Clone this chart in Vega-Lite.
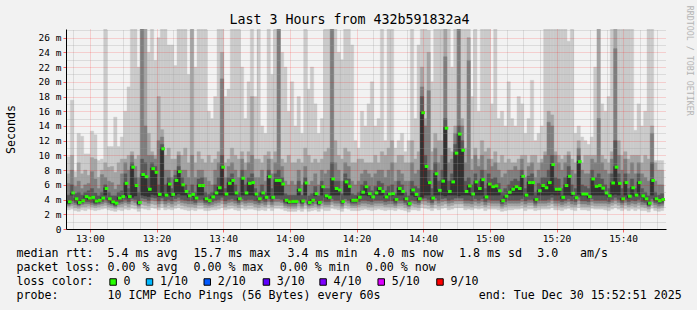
{
"$schema": "https://vega.github.io/schema/vega-lite/v6.json",
"background": "#f2f2f2",
"padding": {"left": 5, "top": 5, "right": 5, "bottom": 8},
"bounds": "flush",
"spacing": 25,
"config": {"view": {"stroke": null}, "font": "DejaVu Sans Mono"},
"datasets": {
"pings": [
{"t":"2025-12-30T12:53","p1":2.6,"p2":3.0,"p3":3.2,"p4":3.4,"p5":3.5,"p6":3.8,"p7":4.6,"p8":6.2,"p9":7.5,"p10":9.8,"md":3.7},
{"t":"2025-12-30T12:54","p1":2.7,"p2":3.1,"p3":3.4,"p4":3.8,"p5":4.6,"p6":5.0,"p7":6.0,"p8":8.0,"p9":10.0,"p10":17.5,"md":4.9},
{"t":"2025-12-30T12:55","p1":2.5,"p2":2.9,"p3":3.3,"p4":3.6,"p5":3.9,"p6":4.2,"p7":4.8,"p8":5.8,"p9":7.0,"p10":7.8,"md":4.1},
{"t":"2025-12-30T12:56","p1":2.4,"p2":2.8,"p3":3.1,"p4":3.3,"p5":3.4,"p6":3.7,"p7":5.0,"p8":6.5,"p9":9.0,"p10":13.0,"md":3.6},
{"t":"2025-12-30T12:57","p1":2.6,"p2":3.0,"p3":3.3,"p4":3.5,"p5":3.7,"p6":3.9,"p7":4.6,"p8":5.5,"p9":7.5,"p10":12.6,"md":3.85},
{"t":"2025-12-30T12:58","p1":2.5,"p2":3.0,"p3":3.4,"p4":3.7,"p5":4.2,"p6":4.5,"p7":5.0,"p8":6.0,"p9":8.0,"p10":10.2,"md":4.4},
{"t":"2025-12-30T12:59","p1":2.7,"p2":3.1,"p3":3.4,"p4":3.7,"p5":4.0,"p6":4.3,"p7":5.2,"p8":6.2,"p9":7.3,"p10":10.2,"md":4.2},
{"t":"2025-12-30T13:00","p1":2.6,"p2":3.0,"p3":3.3,"p4":3.6,"p5":4.1,"p6":4.4,"p7":5.5,"p8":7.8,"p9":9.7,"p10":13.3,"md":4.3},
{"t":"2025-12-30T13:01","p1":2.5,"p2":2.9,"p3":3.2,"p4":3.4,"p5":3.6,"p6":3.9,"p7":4.9,"p8":6.8,"p9":9.5,"p10":12.8,"md":3.8},
{"t":"2025-12-30T13:02","p1":2.6,"p2":3.0,"p3":3.3,"p4":3.5,"p5":3.7,"p6":4.0,"p7":4.5,"p8":5.5,"p9":7.0,"p10":9.3,"md":3.9},
{"t":"2025-12-30T13:03","p1":2.7,"p2":3.1,"p3":3.4,"p4":3.7,"p5":4.0,"p6":4.3,"p7":5.0,"p8":7.4,"p9":8.0,"p10":9.5,"md":4.2},
{"t":"2025-12-30T13:04","p1":2.8,"p2":3.2,"p3":3.6,"p4":4.0,"p5":4.6,"p6":5.6,"p7":6.0,"p8":7.0,"p9":9.0,"p10":30,"md":5.5},
{"t":"2025-12-30T13:05","p1":2.6,"p2":3.0,"p3":3.3,"p4":3.6,"p5":3.9,"p6":4.2,"p7":5.0,"p8":6.5,"p9":8.4,"p10":11.2,"md":4.1},
{"t":"2025-12-30T13:06","p1":2.5,"p2":2.9,"p3":3.2,"p4":3.4,"p5":3.5,"p6":3.8,"p7":4.5,"p8":6.3,"p9":8.5,"p10":11.2,"md":3.7},
{"t":"2025-12-30T13:07","p1":2.4,"p2":2.8,"p3":3.0,"p4":3.2,"p5":3.3,"p6":3.6,"p7":4.5,"p8":5.4,"p9":7.7,"p10":15.2,"md":3.5},
{"t":"2025-12-30T13:08","p1":2.6,"p2":3.0,"p3":3.3,"p4":3.6,"p5":4.0,"p6":4.3,"p7":5.0,"p8":6.0,"p9":9.0,"p10":11.2,"md":4.2},
{"t":"2025-12-30T13:09","p1":2.5,"p2":3.0,"p3":3.4,"p4":3.7,"p5":4.2,"p6":4.5,"p7":5.2,"p8":7.5,"p9":9.5,"p10":12.5,"md":4.4},
{"t":"2025-12-30T13:10","p1":2.7,"p2":3.2,"p3":3.6,"p4":4.0,"p5":4.5,"p6":6.3,"p7":7.5,"p8":9.0,"p9":9.5,"p10":16.0,"md":6.2},
{"t":"2025-12-30T13:11","p1":2.6,"p2":3.0,"p3":3.4,"p4":3.7,"p5":4.2,"p6":4.5,"p7":5.5,"p8":8.0,"p9":10.0,"p10":19.3,"md":4.4},
{"t":"2025-12-30T13:12","p1":2.8,"p2":3.3,"p3":3.8,"p4":4.1,"p5":4.3,"p6":8.5,"p7":9.0,"p8":10.0,"p9":10.5,"p10":30,"md":8.4},
{"t":"2025-12-30T13:13","p1":2.7,"p2":3.2,"p3":3.6,"p4":4.0,"p5":4.5,"p6":6.0,"p7":7.0,"p8":8.5,"p9":9.5,"p10":30,"md":5.9},
{"t":"2025-12-30T13:14","p1":2.4,"p2":2.8,"p3":3.1,"p4":3.3,"p5":3.4,"p6":3.7,"p7":5.0,"p8":7.0,"p9":10.0,"p10":22.0,"md":3.6},
{"t":"2025-12-30T13:15","p1":2.8,"p2":3.3,"p3":3.8,"p4":4.2,"p5":4.6,"p6":7.5,"p7":9.5,"p8":30,"p9":30,"p10":30,"md":7.4},
{"t":"2025-12-30T13:16","p1":2.7,"p2":3.2,"p3":3.7,"p4":4.1,"p5":4.5,"p6":7.2,"p7":9.0,"p8":14.0,"p9":30,"p10":30,"md":7.1},
{"t":"2025-12-30T13:17","p1":2.6,"p2":3.1,"p3":3.5,"p4":3.9,"p5":4.4,"p6":5.5,"p7":7.0,"p8":10.0,"p9":13.0,"p10":24.0,"md":5.4},
{"t":"2025-12-30T13:18","p1":2.9,"p2":3.4,"p3":3.9,"p4":4.3,"p5":4.7,"p6":8.3,"p7":9.0,"p8":10.0,"p9":10.5,"p10":30,"md":8.2},
{"t":"2025-12-30T13:19","p1":2.8,"p2":3.3,"p3":3.8,"p4":4.2,"p5":4.6,"p6":7.8,"p7":8.5,"p8":9.5,"p9":10.0,"p10":22.9,"md":7.7},
{"t":"2025-12-30T13:20","p1":2.6,"p2":3.0,"p3":3.4,"p4":3.8,"p5":4.4,"p6":4.8,"p7":6.0,"p8":12.0,"p9":18.0,"p10":26.0,"md":4.7},
{"t":"2025-12-30T13:21","p1":2.9,"p2":3.4,"p3":3.8,"p4":4.2,"p5":4.5,"p6":11.0,"p7":11.5,"p8":12.5,"p9":13.5,"p10":30,"md":10.9},
{"t":"2025-12-30T13:22","p1":2.6,"p2":3.0,"p3":3.4,"p4":3.8,"p5":4.4,"p6":4.7,"p7":6.0,"p8":8.0,"p9":10.0,"p10":30,"md":4.6},
{"t":"2025-12-30T13:23","p1":2.7,"p2":3.2,"p3":3.6,"p4":4.0,"p5":4.6,"p6":6.2,"p7":7.0,"p8":8.0,"p9":11.0,"p10":25.0,"md":6.1},
{"t":"2025-12-30T13:24","p1":2.6,"p2":3.0,"p3":3.4,"p4":3.8,"p5":4.4,"p6":4.8,"p7":5.5,"p8":7.0,"p9":9.5,"p10":25.0,"md":4.7},
{"t":"2025-12-30T13:25","p1":2.8,"p2":3.2,"p3":3.7,"p4":4.1,"p5":4.6,"p6":6.7,"p7":7.3,"p8":8.0,"p9":9.5,"p10":22.2,"md":6.6},
{"t":"2025-12-30T13:26","p1":2.9,"p2":3.4,"p3":3.9,"p4":4.3,"p5":4.8,"p6":7.9,"p7":8.5,"p8":10.0,"p9":10.5,"p10":30,"md":7.8},
{"t":"2025-12-30T13:27","p1":2.7,"p2":3.2,"p3":3.6,"p4":4.0,"p5":4.6,"p6":6.1,"p7":7.0,"p8":8.0,"p9":10.0,"p10":30,"md":6.0},
{"t":"2025-12-30T13:28","p1":2.6,"p2":3.1,"p3":3.5,"p4":3.9,"p5":4.6,"p6":5.2,"p7":6.0,"p8":8.0,"p9":11.0,"p10":30,"md":5.1},
{"t":"2025-12-30T13:29","p1":2.5,"p2":3.0,"p3":3.4,"p4":3.8,"p5":4.3,"p6":4.6,"p7":5.2,"p8":7.0,"p9":9.0,"p10":21.0,"md":4.5},
{"t":"2025-12-30T13:30","p1":2.6,"p2":3.0,"p3":3.4,"p4":3.8,"p5":4.4,"p6":4.8,"p7":6.0,"p8":10.0,"p9":30,"p10":30,"md":4.7},
{"t":"2025-12-30T13:31","p1":2.5,"p2":2.9,"p3":3.3,"p4":3.6,"p5":4.0,"p6":4.3,"p7":5.0,"p8":7.0,"p9":9.0,"p10":22.0,"md":4.2},
{"t":"2025-12-30T13:32","p1":2.7,"p2":3.2,"p3":3.6,"p4":4.0,"p5":4.6,"p6":6.0,"p7":6.8,"p8":8.0,"p9":10.5,"p10":30,"md":5.9},
{"t":"2025-12-30T13:33","p1":2.7,"p2":3.2,"p3":3.6,"p4":4.0,"p5":4.6,"p6":6.0,"p7":7.0,"p8":8.0,"p9":9.5,"p10":30,"md":5.9},
{"t":"2025-12-30T13:34","p1":2.5,"p2":2.9,"p3":3.3,"p4":3.6,"p5":3.9,"p6":4.2,"p7":5.0,"p8":7.0,"p9":9.0,"p10":30,"md":4.1},
{"t":"2025-12-30T13:35","p1":2.5,"p2":2.9,"p3":3.2,"p4":3.5,"p5":3.7,"p6":3.9,"p7":4.7,"p8":6.5,"p9":10.0,"p10":16.0,"md":3.85},
{"t":"2025-12-30T13:36","p1":2.6,"p2":3.0,"p3":3.3,"p4":3.7,"p5":4.2,"p6":4.4,"p7":5.0,"p8":6.0,"p9":9.0,"p10":15.0,"md":4.35},
{"t":"2025-12-30T13:37","p1":2.6,"p2":3.1,"p3":3.5,"p4":3.9,"p5":4.6,"p6":5.0,"p7":6.0,"p8":8.0,"p9":9.5,"p10":18.0,"md":4.9},
{"t":"2025-12-30T13:38","p1":2.7,"p2":3.2,"p3":3.6,"p4":4.0,"p5":4.6,"p6":5.7,"p7":7.0,"p8":9.0,"p9":10.5,"p10":30,"md":5.6},
{"t":"2025-12-30T13:39","p1":2.9,"p2":3.4,"p3":3.9,"p4":4.3,"p5":4.6,"p6":8.5,"p7":10.0,"p8":20.4,"p9":24.0,"p10":30,"md":8.4},
{"t":"2025-12-30T13:40","p1":2.6,"p2":3.0,"p3":3.4,"p4":3.8,"p5":4.5,"p6":4.8,"p7":5.5,"p8":7.0,"p9":9.0,"p10":18.0,"md":4.75},
{"t":"2025-12-30T13:41","p1":2.7,"p2":3.2,"p3":3.6,"p4":4.0,"p5":4.6,"p6":6.3,"p7":7.0,"p8":8.5,"p9":9.5,"p10":19.0,"md":6.2},
{"t":"2025-12-30T13:42","p1":2.8,"p2":3.2,"p3":3.7,"p4":4.1,"p5":4.6,"p6":6.7,"p7":7.5,"p8":9.0,"p9":11.0,"p10":30,"md":6.6},
{"t":"2025-12-30T13:43","p1":2.6,"p2":3.1,"p3":3.5,"p4":3.9,"p5":4.6,"p6":5.0,"p7":6.0,"p8":8.0,"p9":10.0,"p10":30,"md":4.9},
{"t":"2025-12-30T13:44","p1":2.5,"p2":2.9,"p3":3.3,"p4":3.6,"p5":3.9,"p6":4.2,"p7":5.0,"p8":7.0,"p9":9.5,"p10":30,"md":4.1},
{"t":"2025-12-30T13:45","p1":2.8,"p2":3.3,"p3":3.7,"p4":4.1,"p5":4.6,"p6":7.0,"p7":8.0,"p8":9.5,"p9":10.5,"p10":22.0,"md":6.9},
{"t":"2025-12-30T13:46","p1":2.6,"p2":3.1,"p3":3.5,"p4":3.9,"p5":4.6,"p6":5.0,"p7":6.0,"p8":8.0,"p9":9.0,"p10":15.0,"md":4.9},
{"t":"2025-12-30T13:47","p1":2.7,"p2":3.2,"p3":3.6,"p4":4.0,"p5":4.6,"p6":6.3,"p7":7.0,"p8":9.0,"p9":10.5,"p10":20.0,"md":6.2},
{"t":"2025-12-30T13:48","p1":2.7,"p2":3.2,"p3":3.6,"p4":4.0,"p5":4.6,"p6":6.4,"p7":7.5,"p8":10.0,"p9":18.0,"p10":30,"md":6.3},
{"t":"2025-12-30T13:49","p1":2.6,"p2":3.0,"p3":3.4,"p4":3.8,"p5":4.5,"p6":4.8,"p7":5.5,"p8":7.0,"p9":9.5,"p10":18.0,"md":4.75},
{"t":"2025-12-30T13:50","p1":2.5,"p2":2.9,"p3":3.3,"p4":3.6,"p5":3.9,"p6":4.2,"p7":5.0,"p8":7.0,"p9":9.5,"p10":30,"md":4.1},
{"t":"2025-12-30T13:51","p1":2.6,"p2":3.1,"p3":3.5,"p4":3.9,"p5":4.6,"p6":5.0,"p7":6.0,"p8":8.0,"p9":9.0,"p10":14.0,"md":4.9},
{"t":"2025-12-30T13:52","p1":2.5,"p2":3.0,"p3":3.3,"p4":3.7,"p5":4.1,"p6":4.4,"p7":5.0,"p8":6.5,"p9":10.0,"p10":13.0,"md":4.3},
{"t":"2025-12-30T13:53","p1":2.8,"p2":3.3,"p3":3.7,"p4":4.1,"p5":4.6,"p6":7.2,"p7":8.0,"p8":9.5,"p9":10.5,"p10":30,"md":7.1},
{"t":"2025-12-30T13:54","p1":2.5,"p2":3.0,"p3":3.3,"p4":3.7,"p5":4.1,"p6":4.4,"p7":5.5,"p8":7.5,"p9":9.5,"p10":21.0,"md":4.3},
{"t":"2025-12-30T13:55","p1":2.8,"p2":3.2,"p3":3.7,"p4":4.1,"p5":4.6,"p6":6.7,"p7":7.5,"p8":9.0,"p9":10.5,"p10":30,"md":6.6},
{"t":"2025-12-30T13:56","p1":2.8,"p2":3.2,"p3":3.7,"p4":4.1,"p5":4.6,"p6":6.7,"p7":8.0,"p8":30,"p9":30,"p10":30,"md":6.6},
{"t":"2025-12-30T13:57","p1":2.7,"p2":3.2,"p3":3.6,"p4":4.0,"p5":4.6,"p6":6.2,"p7":7.0,"p8":8.5,"p9":9.5,"p10":24.0,"md":6.1},
{"t":"2025-12-30T13:58","p1":2.5,"p2":2.9,"p3":3.2,"p4":3.5,"p5":3.7,"p6":4.0,"p7":4.8,"p8":6.5,"p9":9.0,"p10":22.0,"md":3.9},
{"t":"2025-12-30T13:59","p1":2.4,"p2":2.8,"p3":3.1,"p4":3.4,"p5":3.5,"p6":3.8,"p7":4.6,"p8":6.0,"p9":10.0,"p10":16.0,"md":3.7},
{"t":"2025-12-30T14:00","p1":2.4,"p2":2.8,"p3":3.1,"p4":3.4,"p5":3.6,"p6":3.8,"p7":4.6,"p8":6.5,"p9":9.0,"p10":20.0,"md":3.75},
{"t":"2025-12-30T14:01","p1":2.4,"p2":2.8,"p3":3.1,"p4":3.4,"p5":3.6,"p6":3.8,"p7":4.6,"p8":6.0,"p9":9.0,"p10":14.0,"md":3.75},
{"t":"2025-12-30T14:02","p1":2.6,"p2":3.1,"p3":3.5,"p4":3.9,"p5":4.6,"p6":5.4,"p7":6.5,"p8":8.0,"p9":9.5,"p10":18.0,"md":5.3},
{"t":"2025-12-30T14:03","p1":2.4,"p2":2.8,"p3":3.1,"p4":3.4,"p5":3.6,"p6":3.9,"p7":4.6,"p8":6.0,"p9":9.0,"p10":13.0,"md":3.8},
{"t":"2025-12-30T14:04","p1":2.7,"p2":3.2,"p3":3.6,"p4":4.0,"p5":4.6,"p6":6.3,"p7":7.0,"p8":8.5,"p9":11.0,"p10":30,"md":6.25},
{"t":"2025-12-30T14:05","p1":2.4,"p2":2.8,"p3":3.1,"p4":3.3,"p5":3.4,"p6":3.7,"p7":4.5,"p8":6.0,"p9":10.0,"p10":19.0,"md":3.6},
{"t":"2025-12-30T14:06","p1":2.5,"p2":2.9,"p3":3.2,"p4":3.5,"p5":3.7,"p6":4.0,"p7":4.8,"p8":6.5,"p9":9.0,"p10":22.0,"md":3.9},
{"t":"2025-12-30T14:07","p1":2.6,"p2":3.0,"p3":3.4,"p4":3.8,"p5":4.5,"p6":4.9,"p7":5.8,"p8":7.5,"p9":9.5,"p10":17.0,"md":4.8},
{"t":"2025-12-30T14:08","p1":2.4,"p2":2.8,"p3":3.1,"p4":3.3,"p5":3.4,"p6":3.7,"p7":4.5,"p8":6.0,"p9":9.0,"p10":13.0,"md":3.6},
{"t":"2025-12-30T14:09","p1":2.7,"p2":3.1,"p3":3.5,"p4":3.9,"p5":4.6,"p6":5.8,"p7":6.5,"p8":8.0,"p9":9.5,"p10":15.0,"md":5.75},
{"t":"2025-12-30T14:10","p1":2.5,"p2":3.0,"p3":3.3,"p4":3.7,"p5":4.3,"p6":4.6,"p7":5.5,"p8":7.5,"p9":10.5,"p10":30,"md":4.5},
{"t":"2025-12-30T14:11","p1":2.5,"p2":3.0,"p3":3.3,"p4":3.7,"p5":4.1,"p6":4.4,"p7":5.5,"p8":8.0,"p9":11.0,"p10":30,"md":4.3},
{"t":"2025-12-30T14:12","p1":2.8,"p2":3.3,"p3":3.7,"p4":4.1,"p5":4.6,"p6":6.9,"p7":9.0,"p8":30,"p9":30,"p10":30,"md":6.8},
{"t":"2025-12-30T14:13","p1":2.7,"p2":3.1,"p3":3.5,"p4":3.9,"p5":4.6,"p6":5.6,"p7":6.5,"p8":9.0,"p9":12.0,"p10":30,"md":5.5},
{"t":"2025-12-30T14:14","p1":2.6,"p2":3.1,"p3":3.5,"p4":3.9,"p5":4.6,"p6":5.4,"p7":6.5,"p8":8.0,"p9":10.0,"p10":24.0,"md":5.3},
{"t":"2025-12-30T14:15","p1":2.4,"p2":2.8,"p3":3.1,"p4":3.4,"p5":3.6,"p6":3.8,"p7":4.8,"p8":6.5,"p9":9.5,"p10":23.0,"md":3.75},
{"t":"2025-12-30T14:16","p1":2.8,"p2":3.2,"p3":3.7,"p4":4.1,"p5":4.6,"p6":6.5,"p7":7.5,"p8":9.0,"p9":11.0,"p10":30,"md":6.4},
{"t":"2025-12-30T14:17","p1":2.7,"p2":3.1,"p3":3.5,"p4":3.9,"p5":4.6,"p6":5.9,"p7":6.8,"p8":8.5,"p9":10.5,"p10":30,"md":5.8},
{"t":"2025-12-30T14:18","p1":2.5,"p2":2.9,"p3":3.2,"p4":3.5,"p5":3.7,"p6":4.0,"p7":4.8,"p8":6.5,"p9":9.0,"p10":25.0,"md":3.9},
{"t":"2025-12-30T14:19","p1":2.5,"p2":2.9,"p3":3.2,"p4":3.5,"p5":3.7,"p6":4.0,"p7":4.6,"p8":6.0,"p9":9.0,"p10":12.0,"md":3.9},
{"t":"2025-12-30T14:20","p1":2.5,"p2":3.0,"p3":3.3,"p4":3.7,"p5":4.1,"p6":4.4,"p7":5.0,"p8":6.5,"p9":9.5,"p10":11.0,"md":4.3},
{"t":"2025-12-30T14:21","p1":2.6,"p2":3.1,"p3":3.5,"p4":3.9,"p5":4.6,"p6":5.1,"p7":6.0,"p8":7.5,"p9":9.5,"p10":16.0,"md":5.0},
{"t":"2025-12-30T14:22","p1":2.7,"p2":3.1,"p3":3.5,"p4":3.9,"p5":4.6,"p6":5.8,"p7":6.5,"p8":8.0,"p9":9.0,"p10":14.0,"md":5.75},
{"t":"2025-12-30T14:23","p1":2.6,"p2":3.0,"p3":3.4,"p4":3.8,"p5":4.5,"p6":4.9,"p7":5.8,"p8":7.5,"p9":9.0,"p10":17.0,"md":4.8},
{"t":"2025-12-30T14:24","p1":2.5,"p2":3.0,"p3":3.3,"p4":3.7,"p5":4.2,"p6":4.4,"p7":5.2,"p8":7.0,"p9":9.0,"p10":20.0,"md":4.35},
{"t":"2025-12-30T14:25","p1":2.6,"p2":3.1,"p3":3.5,"p4":3.9,"p5":4.6,"p6":5.0,"p7":5.8,"p8":7.5,"p9":10.0,"p10":14.0,"md":4.9},
{"t":"2025-12-30T14:26","p1":2.7,"p2":3.1,"p3":3.5,"p4":3.9,"p5":4.6,"p6":5.6,"p7":6.5,"p8":8.0,"p9":9.0,"p10":15.0,"md":5.5},
{"t":"2025-12-30T14:27","p1":2.6,"p2":3.1,"p3":3.5,"p4":3.9,"p5":4.6,"p6":5.2,"p7":6.2,"p8":8.0,"p9":10.5,"p10":30,"md":5.1},
{"t":"2025-12-30T14:28","p1":2.5,"p2":3.0,"p3":3.3,"p4":3.7,"p5":4.2,"p6":4.4,"p7":5.2,"p8":7.0,"p9":10.0,"p10":12.0,"md":4.35},
{"t":"2025-12-30T14:29","p1":2.6,"p2":3.0,"p3":3.4,"p4":3.8,"p5":4.5,"p6":4.8,"p7":5.8,"p8":8.0,"p9":11.0,"p10":30,"md":4.75},
{"t":"2025-12-30T14:30","p1":2.6,"p2":3.0,"p3":3.4,"p4":3.8,"p5":4.5,"p6":4.9,"p7":6.0,"p8":9.0,"p9":12.0,"p10":30,"md":4.8},
{"t":"2025-12-30T14:31","p1":2.5,"p2":2.9,"p3":3.2,"p4":3.5,"p5":3.8,"p6":4.1,"p7":4.8,"p8":6.5,"p9":9.0,"p10":11.0,"md":4.0},
{"t":"2025-12-30T14:32","p1":2.7,"p2":3.1,"p3":3.5,"p4":3.9,"p5":4.6,"p6":5.6,"p7":6.5,"p8":8.0,"p9":10.0,"p10":12.0,"md":5.5},
{"t":"2025-12-30T14:33","p1":2.6,"p2":3.1,"p3":3.5,"p4":3.9,"p5":4.6,"p6":5.2,"p7":6.0,"p8":7.5,"p9":10.0,"p10":13.0,"md":5.1},
{"t":"2025-12-30T14:34","p1":2.5,"p2":2.9,"p3":3.3,"p4":3.6,"p5":3.9,"p6":4.2,"p7":5.0,"p8":6.5,"p9":9.0,"p10":10.5,"md":4.1},
{"t":"2025-12-30T14:35","p1":2.3,"p2":2.7,"p3":3.0,"p4":3.2,"p5":3.3,"p6":3.5,"p7":4.5,"p8":6.5,"p9":9.0,"p10":12.0,"md":3.45},
{"t":"2025-12-30T14:36","p1":2.6,"p2":3.1,"p3":3.5,"p4":3.9,"p5":4.6,"p6":5.4,"p7":6.5,"p8":9.0,"p9":12.0,"p10":30,"md":5.3},
{"t":"2025-12-30T14:37","p1":2.6,"p2":3.0,"p3":3.4,"p4":3.8,"p5":4.4,"p6":4.8,"p7":5.8,"p8":7.5,"p9":9.5,"p10":15.0,"md":4.7},
{"t":"2025-12-30T14:38","p1":2.5,"p2":2.9,"p3":3.3,"p4":3.6,"p5":3.9,"p6":4.2,"p7":5.5,"p8":8.0,"p9":10.5,"p10":25.0,"md":4.1},
{"t":"2025-12-30T14:39","p1":2.9,"p2":3.4,"p3":3.8,"p4":4.1,"p5":4.3,"p6":15.9,"p7":18.0,"p8":19.3,"p9":22.0,"p10":30,"md":15.8},
{"t":"2025-12-30T14:40","p1":2.8,"p2":3.3,"p3":3.8,"p4":4.2,"p5":4.6,"p6":8.6,"p7":10.0,"p8":14.0,"p9":15.0,"p10":30,"md":8.5},
{"t":"2025-12-30T14:41","p1":2.7,"p2":3.2,"p3":3.6,"p4":4.0,"p5":4.6,"p6":6.4,"p7":8.0,"p8":18.8,"p9":24.0,"p10":27.0,"md":6.3},
{"t":"2025-12-30T14:42","p1":2.5,"p2":2.9,"p3":3.3,"p4":3.6,"p5":4.0,"p6":4.3,"p7":5.5,"p8":8.0,"p9":10.5,"p10":20.0,"md":4.2},
{"t":"2025-12-30T14:43","p1":2.8,"p2":3.3,"p3":3.8,"p4":4.2,"p5":4.6,"p6":7.6,"p7":9.0,"p8":11.0,"p9":13.0,"p10":30,"md":7.5},
{"t":"2025-12-30T14:44","p1":2.6,"p2":3.1,"p3":3.5,"p4":3.9,"p5":4.6,"p6":5.3,"p7":6.5,"p8":9.0,"p9":12.0,"p10":30,"md":5.25},
{"t":"2025-12-30T14:45","p1":2.8,"p2":3.2,"p3":3.7,"p4":4.1,"p5":4.6,"p6":6.6,"p7":8.0,"p8":10.0,"p9":12.0,"p10":30,"md":6.5},
{"t":"2025-12-30T14:46","p1":2.9,"p2":3.4,"p3":3.8,"p4":4.2,"p5":4.5,"p6":13.8,"p7":15.0,"p8":23.4,"p9":28.0,"p10":30,"md":13.7},
{"t":"2025-12-30T14:47","p1":2.6,"p2":3.1,"p3":3.5,"p4":3.9,"p5":4.6,"p6":5.2,"p7":6.5,"p8":9.0,"p9":11.0,"p10":30,"md":5.1},
{"t":"2025-12-30T14:48","p1":2.7,"p2":3.2,"p3":3.6,"p4":4.0,"p5":4.6,"p6":6.5,"p7":7.5,"p8":9.5,"p9":10.5,"p10":22.0,"md":6.4},
{"t":"2025-12-30T14:49","p1":2.9,"p2":3.4,"p3":3.8,"p4":4.2,"p5":4.6,"p6":10.4,"p7":11.5,"p8":13.0,"p9":14.0,"p10":30,"md":10.3},
{"t":"2025-12-30T14:50","p1":2.9,"p2":3.4,"p3":3.8,"p4":4.2,"p5":4.5,"p6":13.0,"p7":14.0,"p8":30,"p9":30,"p10":30,"md":12.9},
{"t":"2025-12-30T14:51","p1":2.9,"p2":3.4,"p3":3.8,"p4":4.2,"p5":4.6,"p6":10.8,"p7":12.0,"p8":14.0,"p9":15.0,"p10":30,"md":10.7},
{"t":"2025-12-30T14:52","p1":2.6,"p2":3.1,"p3":3.5,"p4":3.9,"p5":4.6,"p6":5.2,"p7":6.5,"p8":9.0,"p9":11.0,"p10":30,"md":5.1},
{"t":"2025-12-30T14:53","p1":2.7,"p2":3.1,"p3":3.5,"p4":3.9,"p5":4.6,"p6":5.9,"p7":7.0,"p8":22.9,"p9":26.0,"p10":30,"md":5.85},
{"t":"2025-12-30T14:54","p1":2.6,"p2":3.0,"p3":3.4,"p4":3.8,"p5":4.5,"p6":4.8,"p7":6.0,"p8":8.0,"p9":9.5,"p10":18.0,"md":4.75},
{"t":"2025-12-30T14:55","p1":2.8,"p2":3.2,"p3":3.7,"p4":4.1,"p5":4.6,"p6":6.5,"p7":7.5,"p8":10.0,"p9":11.0,"p10":30,"md":6.4},
{"t":"2025-12-30T14:56","p1":2.7,"p2":3.1,"p3":3.5,"p4":3.9,"p5":4.6,"p6":5.6,"p7":6.5,"p8":8.5,"p9":9.5,"p10":16.0,"md":5.5},
{"t":"2025-12-30T14:57","p1":2.8,"p2":3.2,"p3":3.7,"p4":4.1,"p5":4.6,"p6":6.8,"p7":8.0,"p8":10.0,"p9":12.0,"p10":30,"md":6.7},
{"t":"2025-12-30T14:58","p1":2.5,"p2":3.0,"p3":3.3,"p4":3.7,"p5":4.2,"p6":4.4,"p7":5.5,"p8":8.0,"p9":10.5,"p10":30,"md":4.35},
{"t":"2025-12-30T14:59","p1":2.7,"p2":3.2,"p3":3.6,"p4":4.0,"p5":4.6,"p6":6.2,"p7":7.5,"p8":9.5,"p9":11.0,"p10":30,"md":6.1},
{"t":"2025-12-30T15:00","p1":2.7,"p2":3.1,"p3":3.5,"p4":3.9,"p5":4.6,"p6":5.8,"p7":6.8,"p8":8.5,"p9":9.5,"p10":17.0,"md":5.75},
{"t":"2025-12-30T15:01","p1":2.7,"p2":3.1,"p3":3.5,"p4":3.9,"p5":4.6,"p6":5.9,"p7":7.0,"p8":9.0,"p9":10.5,"p10":30,"md":5.85},
{"t":"2025-12-30T15:02","p1":2.6,"p2":3.1,"p3":3.5,"p4":3.9,"p5":4.6,"p6":5.3,"p7":6.2,"p8":8.0,"p9":9.0,"p10":15.0,"md":5.2},
{"t":"2025-12-30T15:03","p1":2.4,"p2":2.8,"p3":3.1,"p4":3.4,"p5":3.7,"p6":3.9,"p7":5.0,"p8":7.0,"p9":10.0,"p10":16.0,"md":3.85},
{"t":"2025-12-30T15:04","p1":2.5,"p2":3.0,"p3":3.3,"p4":3.7,"p5":4.2,"p6":4.5,"p7":5.5,"p8":7.5,"p9":9.0,"p10":14.0,"md":4.45},
{"t":"2025-12-30T15:05","p1":2.6,"p2":3.1,"p3":3.5,"p4":3.9,"p5":4.6,"p6":5.1,"p7":6.0,"p8":8.0,"p9":9.5,"p10":20.0,"md":5.0},
{"t":"2025-12-30T15:06","p1":2.6,"p2":3.1,"p3":3.5,"p4":3.9,"p5":4.6,"p6":5.5,"p7":6.5,"p8":8.0,"p9":9.0,"p10":15.0,"md":5.4},
{"t":"2025-12-30T15:07","p1":2.7,"p2":3.1,"p3":3.5,"p4":3.9,"p5":4.6,"p6":5.8,"p7":6.8,"p8":8.5,"p9":9.0,"p10":14.0,"md":5.75},
{"t":"2025-12-30T15:08","p1":2.7,"p2":3.1,"p3":3.5,"p4":3.9,"p5":4.6,"p6":5.6,"p7":6.5,"p8":8.0,"p9":9.5,"p10":18.0,"md":5.5},
{"t":"2025-12-30T15:09","p1":2.8,"p2":3.2,"p3":3.7,"p4":4.1,"p5":4.6,"p6":7.2,"p7":8.0,"p8":9.5,"p9":10.0,"p10":17.0,"md":7.15},
{"t":"2025-12-30T15:10","p1":2.5,"p2":3.0,"p3":3.4,"p4":3.8,"p5":4.4,"p6":4.7,"p7":5.5,"p8":7.0,"p9":10.0,"p10":13.0,"md":4.6},
{"t":"2025-12-30T15:11","p1":2.7,"p2":3.2,"p3":3.6,"p4":4.0,"p5":4.6,"p6":6.4,"p7":7.2,"p8":8.5,"p9":9.0,"p10":15.0,"md":6.3},
{"t":"2025-12-30T15:12","p1":2.7,"p2":3.2,"p3":3.6,"p4":4.0,"p5":4.6,"p6":6.4,"p7":7.5,"p8":9.0,"p9":10.0,"p10":20.2,"md":6.3},
{"t":"2025-12-30T15:13","p1":2.5,"p2":2.9,"p3":3.2,"p4":3.5,"p5":3.8,"p6":4.1,"p7":5.0,"p8":7.0,"p9":10.0,"p10":12.0,"md":4.0},
{"t":"2025-12-30T15:14","p1":2.6,"p2":3.1,"p3":3.5,"p4":3.9,"p5":4.6,"p6":5.3,"p7":6.2,"p8":8.0,"p9":9.0,"p10":13.0,"md":5.2},
{"t":"2025-12-30T15:15","p1":2.7,"p2":3.1,"p3":3.5,"p4":3.9,"p5":4.6,"p6":6.0,"p7":7.0,"p8":9.0,"p9":9.5,"p10":14.0,"md":5.9},
{"t":"2025-12-30T15:16","p1":2.7,"p2":3.1,"p3":3.5,"p4":3.9,"p5":4.6,"p6":5.7,"p7":7.0,"p8":10.0,"p9":10.5,"p10":30,"md":5.6},
{"t":"2025-12-30T15:17","p1":2.7,"p2":3.2,"p3":3.6,"p4":4.0,"p5":4.6,"p6":6.4,"p7":8.0,"p8":14.5,"p9":16.0,"p10":30,"md":6.3},
{"t":"2025-12-30T15:18","p1":2.9,"p2":3.4,"p3":3.9,"p4":4.3,"p5":4.7,"p6":8.8,"p7":10.0,"p8":14.0,"p9":15.5,"p10":30,"md":8.75},
{"t":"2025-12-30T15:19","p1":2.6,"p2":3.1,"p3":3.5,"p4":3.9,"p5":4.6,"p6":5.5,"p7":7.0,"p8":10.0,"p9":10.5,"p10":30,"md":5.4},
{"t":"2025-12-30T15:20","p1":2.6,"p2":3.1,"p3":3.5,"p4":3.9,"p5":4.6,"p6":5.5,"p7":6.8,"p8":9.0,"p9":10.0,"p10":30,"md":5.4},
{"t":"2025-12-30T15:21","p1":2.5,"p2":3.0,"p3":3.3,"p4":3.7,"p5":4.1,"p6":4.4,"p7":5.5,"p8":8.0,"p9":9.5,"p10":30,"md":4.3},
{"t":"2025-12-30T15:22","p1":2.7,"p2":3.1,"p3":3.5,"p4":3.9,"p5":4.6,"p6":6.0,"p7":7.0,"p8":9.0,"p9":10.0,"p10":30,"md":5.9},
{"t":"2025-12-30T15:23","p1":2.8,"p2":3.2,"p3":3.7,"p4":4.1,"p5":4.6,"p6":7.2,"p7":8.5,"p8":10.0,"p9":10.5,"p10":25.5,"md":7.15},
{"t":"2025-12-30T15:24","p1":2.6,"p2":3.0,"p3":3.4,"p4":3.8,"p5":4.5,"p6":4.9,"p7":6.0,"p8":8.0,"p9":9.5,"p10":30,"md":4.85},
{"t":"2025-12-30T15:25","p1":2.5,"p2":3.0,"p3":3.3,"p4":3.7,"p5":4.1,"p6":4.3,"p7":5.5,"p8":7.5,"p9":9.0,"p10":13.0,"md":4.25},
{"t":"2025-12-30T15:26","p1":2.9,"p2":3.4,"p3":3.9,"p4":4.3,"p5":4.7,"p6":9.2,"p7":10.0,"p8":11.0,"p9":12.0,"p10":14.0,"md":9.15},
{"t":"2025-12-30T15:27","p1":2.6,"p2":3.0,"p3":3.4,"p4":3.8,"p5":4.5,"p6":4.8,"p7":6.0,"p8":8.0,"p9":9.0,"p10":12.5,"md":4.75},
{"t":"2025-12-30T15:28","p1":2.6,"p2":3.0,"p3":3.4,"p4":3.8,"p5":4.5,"p6":4.8,"p7":5.8,"p8":7.5,"p9":10.0,"p10":12.0,"md":4.75},
{"t":"2025-12-30T15:29","p1":2.5,"p2":3.0,"p3":3.3,"p4":3.7,"p5":4.2,"p6":4.5,"p7":5.5,"p8":7.5,"p9":10.0,"p10":11.5,"md":4.4},
{"t":"2025-12-30T15:30","p1":2.8,"p2":3.2,"p3":3.7,"p4":4.1,"p5":4.6,"p6":6.9,"p7":8.0,"p8":9.5,"p9":10.0,"p10":12.5,"md":6.8},
{"t":"2025-12-30T15:31","p1":2.7,"p2":3.1,"p3":3.5,"p4":3.9,"p5":4.6,"p6":5.9,"p7":7.0,"p8":9.0,"p9":10.0,"p10":22.0,"md":5.8},
{"t":"2025-12-30T15:32","p1":2.7,"p2":3.1,"p3":3.5,"p4":3.9,"p5":4.6,"p6":6.0,"p7":7.5,"p8":15.0,"p9":30,"p10":30,"md":5.9},
{"t":"2025-12-30T15:33","p1":2.7,"p2":3.1,"p3":3.5,"p4":3.9,"p5":4.6,"p6":5.6,"p7":6.8,"p8":9.0,"p9":10.0,"p10":17.0,"md":5.55},
{"t":"2025-12-30T15:34","p1":2.6,"p2":3.1,"p3":3.5,"p4":3.9,"p5":4.6,"p6":5.0,"p7":6.0,"p8":8.0,"p9":9.5,"p10":16.0,"md":4.9},
{"t":"2025-12-30T15:35","p1":2.5,"p2":3.0,"p3":3.4,"p4":3.7,"p5":4.3,"p6":4.6,"p7":5.5,"p8":7.5,"p9":9.0,"p10":18.0,"md":4.5},
{"t":"2025-12-30T15:36","p1":2.7,"p2":3.2,"p3":3.6,"p4":4.0,"p5":4.6,"p6":6.3,"p7":7.5,"p8":9.5,"p9":10.5,"p10":30,"md":6.25},
{"t":"2025-12-30T15:37","p1":2.9,"p2":3.4,"p3":3.9,"p4":4.3,"p5":4.7,"p6":8.5,"p7":12.0,"p8":24.5,"p9":30,"p10":30,"md":8.4},
{"t":"2025-12-30T15:38","p1":2.7,"p2":3.2,"p3":3.6,"p4":4.0,"p5":4.6,"p6":6.3,"p7":7.5,"p8":10.0,"p9":12.0,"p10":30,"md":6.2},
{"t":"2025-12-30T15:39","p1":2.5,"p2":2.9,"p3":3.3,"p4":3.6,"p5":3.9,"p6":4.2,"p7":5.5,"p8":8.0,"p9":10.0,"p10":30,"md":4.1},
{"t":"2025-12-30T15:40","p1":2.7,"p2":3.2,"p3":3.6,"p4":4.0,"p5":4.6,"p6":6.4,"p7":7.5,"p8":9.5,"p9":10.5,"p10":30,"md":6.3},
{"t":"2025-12-30T15:41","p1":2.5,"p2":3.0,"p3":3.3,"p4":3.7,"p5":4.2,"p6":4.5,"p7":5.5,"p8":7.5,"p9":9.5,"p10":30,"md":4.45},
{"t":"2025-12-30T15:42","p1":2.7,"p2":3.1,"p3":3.5,"p4":3.9,"p5":4.6,"p6":5.7,"p7":6.8,"p8":9.0,"p9":10.0,"p10":30,"md":5.6},
{"t":"2025-12-30T15:43","p1":2.5,"p2":3.0,"p3":3.4,"p4":3.8,"p5":4.4,"p6":4.7,"p7":5.5,"p8":7.5,"p9":10.0,"p10":13.4,"md":4.6},
{"t":"2025-12-30T15:44","p1":2.7,"p2":3.2,"p3":3.6,"p4":4.0,"p5":4.6,"p6":6.4,"p7":7.5,"p8":9.0,"p9":10.0,"p10":17.0,"md":6.3},
{"t":"2025-12-30T15:45","p1":2.5,"p2":3.0,"p3":3.3,"p4":3.7,"p5":4.3,"p6":4.6,"p7":5.5,"p8":7.5,"p9":9.0,"p10":14.0,"md":4.5},
{"t":"2025-12-30T15:46","p1":2.5,"p2":2.9,"p3":3.3,"p4":3.6,"p5":3.9,"p6":4.2,"p7":5.0,"p8":7.0,"p9":10.0,"p10":16.0,"md":4.1},
{"t":"2025-12-30T15:47","p1":2.3,"p2":2.7,"p3":3.0,"p4":3.2,"p5":3.3,"p6":3.6,"p7":4.5,"p8":6.5,"p9":9.5,"p10":30,"md":3.5},
{"t":"2025-12-30T15:48","p1":2.8,"p2":3.2,"p3":3.7,"p4":4.1,"p5":4.6,"p6":6.7,"p7":9.0,"p8":13.0,"p9":14.0,"p10":30,"md":6.6},
{"t":"2025-12-30T15:49","p1":2.5,"p2":2.9,"p3":3.3,"p4":3.6,"p5":3.9,"p6":4.2,"p7":5.0,"p8":6.5,"p9":9.0,"p10":9.3,"md":4.1},
{"t":"2025-12-30T15:50","p1":2.4,"p2":2.8,"p3":3.1,"p4":3.4,"p5":3.7,"p6":3.9,"p7":4.6,"p8":6.0,"p9":8.0,"p10":9.3,"md":3.85},
{"t":"2025-12-30T15:51","p1":2.5,"p2":2.9,"p3":3.2,"p4":3.5,"p5":3.8,"p6":4.1,"p7":4.8,"p8":6.0,"p9":8.0,"p10":9.3,"md":4.0}
],
"legendtext": [
{"kind":"text","row":0,"col":0,"label":"median rtt:"},
{"kind":"text","row":0,"col":13,"label":"5.4 ms avg"},
{"kind":"text","row":0,"col":25.3,"label":"15.7 ms max"},
{"kind":"text","row":0,"col":38.7,"label":"3.4 ms min"},
{"kind":"text","row":0,"col":51,"label":"4.0 ms now"},
{"kind":"text","row":0,"col":63.2,"label":"1.8 ms sd"},
{"kind":"text","row":0,"col":74.4,"label":"3.0"},
{"kind":"text","row":0,"col":80.5,"label":"am/s"},
{"kind":"text","row":1,"col":0,"label":"packet loss:"},
{"kind":"text","row":1,"col":13,"label":"0.00 % avg"},
{"kind":"text","row":1,"col":25.3,"label":"0.00 % max"},
{"kind":"text","row":1,"col":37.6,"label":"0.00 % min"},
{"kind":"text","row":1,"col":49.9,"label":"0.00 % now"},
{"kind":"text","row":2,"col":0,"label":"loss color:"},
{"kind":"box","row":2,"col":13.8,"label":"0"},
{"kind":"box","row":2,"col":19.0,"label":"1/10"},
{"kind":"box","row":2,"col":27.25,"label":"2/10"},
{"kind":"box","row":2,"col":35.7,"label":"3/10"},
{"kind":"box","row":2,"col":43.8,"label":"4/10"},
{"kind":"box","row":2,"col":52.1,"label":"5/10"},
{"kind":"box","row":2,"col":60.5,"label":"9/10"},
{"kind":"text","row":2,"col":15.3,"label":"0"},
{"kind":"text","row":2,"col":20.5,"label":"1/10"},
{"kind":"text","row":2,"col":28.76,"label":"2/10"},
{"kind":"text","row":2,"col":37.19,"label":"3/10"},
{"kind":"text","row":2,"col":45.29,"label":"4/10"},
{"kind":"text","row":2,"col":53.61,"label":"5/10"},
{"kind":"text","row":2,"col":62.0,"label":"9/10"},
{"kind":"text","row":3,"col":0,"label":"probe:"},
{"kind":"text","row":3,"col":13,"label":"10 ICMP Echo Pings (56 Bytes) every 60s"},
{"kind":"text","row":3,"col":66.05,"label":"end: Tue Dec 30 15:52:51 2025"}
]
},
"vconcat": [
{
"width": 600,
"height": 200,
"data": {"name": "pings"},
"resolve": {"axis": {"x": "independent", "y": "independent"}},
"layer": [
{
"mark": {"type": "bar", "color": "#cacaca", "clip": true, "binSpacing": 0, "stroke": "#cacaca", "strokeWidth": 0.4},
"encoding": {
"x": {"field": "t", "type": "temporal", "timeUnit": "yearmonthdatehoursminutes",
"scale": {"domain": [{"year":2025,"month":12,"date":30,"hours":12,"minutes":52,"seconds":51},{"year":2025,"month":12,"date":30,"hours":15,"minutes":52,"seconds":51}], "nice": false},
"axis": {"values": [
{"year":2025,"month":12,"date":30,"hours":13,"minutes":0},
{"year":2025,"month":12,"date":30,"hours":13,"minutes":20},
{"year":2025,"month":12,"date":30,"hours":13,"minutes":40},
{"year":2025,"month":12,"date":30,"hours":14,"minutes":0},
{"year":2025,"month":12,"date":30,"hours":14,"minutes":20},
{"year":2025,"month":12,"date":30,"hours":14,"minutes":40},
{"year":2025,"month":12,"date":30,"hours":15,"minutes":0},
{"year":2025,"month":12,"date":30,"hours":15,"minutes":20},
{"year":2025,"month":12,"date":30,"hours":15,"minutes":40}
], "format": "%H:%M", "grid": true, "gridColor": "#ff0000", "gridOpacity": 0.3, "gridDash": [1, 1], "tickColor": "#ff0000", "tickOpacity": 0.6, "tickSize": 3, "labelPadding": 1, "labelFont": "DejaVu Sans Mono", "labelFontSize": 9.5, "labelColor": "#000000", "domainColor": "#000000", "domainWidth": 1, "title": null, "zindex": 1, "labelFlush": false, "labelOverlap": false}},
"y": {"field": "p1", "type": "quantitative", "scale": {"domain": [0, 27.17], "nice": false, "zero": false},
"axis": {"values": [0,2,4,6,8,10,12,14,16,18,20,22,24,26], "labelExpr": "datum.value == 0 ? '0' : datum.value + ' m'", "grid": true, "gridColor": "#ff0000", "gridOpacity": 0.3, "gridDash": [1, 1], "tickColor": "#ff0000", "tickOpacity": 0.6, "tickSize": 3, "labelPadding": 2, "labelFont": "DejaVu Sans Mono", "labelFontSize": 9.5, "labelColor": "#000000", "domainColor": "#000000", "title": "Seconds", "titleFont": "DejaVu Sans Mono", "titleFontSize": 11.6, "titleFontWeight": "normal", "titleColor": "#000000", "titleX": -55, "titleBaseline": "middle", "zindex": 1}},
"y2": {"field": "p10"}
}
},
{
"mark": {"type": "bar", "color": "#a4a4a4", "clip": true, "binSpacing": 0, "stroke": "#a4a4a4", "strokeWidth": 0.4},
"encoding": {
"x": {"field": "t", "type": "temporal", "timeUnit": "yearmonthdatehoursminutes", "scale": {"domain": [{"year":2025,"month":12,"date":30,"hours":12,"minutes":52,"seconds":51},{"year":2025,"month":12,"date":30,"hours":15,"minutes":52,"seconds":51}], "nice": false}, "axis": null},
"y": {"field": "p2", "type": "quantitative", "scale": {"domain": [0, 27.17], "nice": false, "zero": false}, "axis": null},
"y2": {"field": "p9"}
}
},
{
"mark": {"type": "bar", "color": "#7e7e7e", "clip": true, "binSpacing": 0, "stroke": "#7e7e7e", "strokeWidth": 0.4},
"encoding": {
"x": {"field": "t", "type": "temporal", "timeUnit": "yearmonthdatehoursminutes", "scale": {"domain": [{"year":2025,"month":12,"date":30,"hours":12,"minutes":52,"seconds":51},{"year":2025,"month":12,"date":30,"hours":15,"minutes":52,"seconds":51}], "nice": false}, "axis": null},
"y": {"field": "p3", "type": "quantitative", "scale": {"domain": [0, 27.17], "nice": false, "zero": false}, "axis": null},
"y2": {"field": "p8"}
}
},
{
"mark": {"type": "bar", "color": "#585858", "clip": true, "binSpacing": 0, "stroke": "#585858", "strokeWidth": 0.4},
"encoding": {
"x": {"field": "t", "type": "temporal", "timeUnit": "yearmonthdatehoursminutes", "scale": {"domain": [{"year":2025,"month":12,"date":30,"hours":12,"minutes":52,"seconds":51},{"year":2025,"month":12,"date":30,"hours":15,"minutes":52,"seconds":51}], "nice": false}, "axis": null},
"y": {"field": "p4", "type": "quantitative", "scale": {"domain": [0, 27.17], "nice": false, "zero": false}, "axis": null},
"y2": {"field": "p7"}
}
},
{
"mark": {"type": "bar", "color": "#323232", "clip": true, "binSpacing": 0, "stroke": "#323232", "strokeWidth": 0.4},
"encoding": {
"x": {"field": "t", "type": "temporal", "timeUnit": "yearmonthdatehoursminutes", "scale": {"domain": [{"year":2025,"month":12,"date":30,"hours":12,"minutes":52,"seconds":51},{"year":2025,"month":12,"date":30,"hours":15,"minutes":52,"seconds":51}], "nice": false}, "axis": null},
"y": {"field": "p5", "type": "quantitative", "scale": {"domain": [0, 27.17], "nice": false, "zero": false}, "axis": null},
"y2": {"field": "p6"}
}
},
{
"mark": {"type": "tick", "orient": "horizontal", "color": "#26ff00", "thickness": 3, "size": 3.6, "opacity": 1, "xOffset": 1.67},
"encoding": {
"x": {"field": "t", "type": "temporal", "timeUnit": "yearmonthdatehoursminutes", "scale": {"domain": [{"year":2025,"month":12,"date":30,"hours":12,"minutes":52,"seconds":51},{"year":2025,"month":12,"date":30,"hours":15,"minutes":52,"seconds":51}], "nice": false}, "axis": null},
"y": {"field": "md", "type": "quantitative", "scale": {"domain": [0, 27.17], "nice": false, "zero": false}, "axis": null}
}
},
{
"mark": {"type": "point", "opacity": 0, "size": 1},
"encoding": {
"x": {"field": "t", "type": "temporal", "timeUnit": "yearmonthdatehoursminutes", "scale": {"domain": [{"year":2025,"month":12,"date":30,"hours":12,"minutes":52,"seconds":51},{"year":2025,"month":12,"date":30,"hours":15,"minutes":52,"seconds":51}], "nice": false},
"axis": {"values": [
{"year":2025,"month":12,"date":30,"hours":12,"minutes":55},
{"year":2025,"month":12,"date":30,"hours":13,"minutes":5},
{"year":2025,"month":12,"date":30,"hours":13,"minutes":10},
{"year":2025,"month":12,"date":30,"hours":13,"minutes":15},
{"year":2025,"month":12,"date":30,"hours":13,"minutes":25},
{"year":2025,"month":12,"date":30,"hours":13,"minutes":30},
{"year":2025,"month":12,"date":30,"hours":13,"minutes":35},
{"year":2025,"month":12,"date":30,"hours":13,"minutes":45},
{"year":2025,"month":12,"date":30,"hours":13,"minutes":50},
{"year":2025,"month":12,"date":30,"hours":13,"minutes":55},
{"year":2025,"month":12,"date":30,"hours":14,"minutes":5},
{"year":2025,"month":12,"date":30,"hours":14,"minutes":10},
{"year":2025,"month":12,"date":30,"hours":14,"minutes":15},
{"year":2025,"month":12,"date":30,"hours":14,"minutes":25},
{"year":2025,"month":12,"date":30,"hours":14,"minutes":30},
{"year":2025,"month":12,"date":30,"hours":14,"minutes":35},
{"year":2025,"month":12,"date":30,"hours":14,"minutes":45},
{"year":2025,"month":12,"date":30,"hours":14,"minutes":50},
{"year":2025,"month":12,"date":30,"hours":14,"minutes":55},
{"year":2025,"month":12,"date":30,"hours":15,"minutes":5},
{"year":2025,"month":12,"date":30,"hours":15,"minutes":10},
{"year":2025,"month":12,"date":30,"hours":15,"minutes":15},
{"year":2025,"month":12,"date":30,"hours":15,"minutes":25},
{"year":2025,"month":12,"date":30,"hours":15,"minutes":30},
{"year":2025,"month":12,"date":30,"hours":15,"minutes":35},
{"year":2025,"month":12,"date":30,"hours":15,"minutes":45},
{"year":2025,"month":12,"date":30,"hours":15,"minutes":50}
], "grid": true, "gridColor": "#999999", "gridOpacity": 0.5, "gridDash": [1, 1], "labels": false, "ticks": false, "domain": false, "title": null, "zindex": 1}},
"y": {"field": "md", "type": "quantitative", "scale": {"domain": [0, 27.17], "nice": false, "zero": false},
"axis": {"orient": "left", "values": [1,3,5,7,9,11,13,15,17,19,21,23,25,27], "grid": true, "gridColor": "#999999", "gridOpacity": 0.5, "gridDash": [1, 1], "labels": false, "ticks": false, "domain": false, "title": null, "zindex": 1}}
}
},
{
"mark": {"type": "point", "opacity": 0, "size": 1},
"encoding": {
"x": {"field": "t", "type": "temporal", "timeUnit": "yearmonthdatehoursminutes", "scale": {"domain": [{"year":2025,"month":12,"date":30,"hours":12,"minutes":52,"seconds":51},{"year":2025,"month":12,"date":30,"hours":15,"minutes":52,"seconds":51}], "nice": false},
"axis": {"orient": "top", "title": "Last 3 Hours from 432b591832a4", "labels": false, "ticks": false, "domain": false, "grid": false, "titleFont": "DejaVu Sans Mono", "titleFontSize": 13.3, "titleFontWeight": "normal", "titleColor": "#000000", "titleX": 283, "titleY": -9.7, "titleAlign": "center", "titleBaseline": "middle"}},
"y": {"field": "md", "type": "quantitative", "scale": {"domain": [0, 27.17], "nice": false, "zero": false},
"axis": {"orient": "right", "title": "RRDTOOL / TOBI OETIKER", "labels": false, "ticks": false, "domain": false, "grid": false, "titleAngle": 90, "titleX": 22, "titleY": -23.7, "titleAlign": "left", "titleBaseline": "middle", "titleFont": "DejaVu Sans Mono", "titleFontSize": 8.3, "titleFontWeight": "normal", "titleColor": "#b4b4b4"}}
}
}
]
},
{
"width": 600,
"height": 42,
"data": {"name": "legendtext"},
"layer": [
{
"transform": [{"filter": "datum.kind == 'text'"}],
"mark": {"type": "text", "align": "left", "baseline": "middle", "font": "DejaVu Sans Mono", "fontSize": 11.63, "color": "#000000"},
"encoding": {
"x": {"field": "col", "type": "quantitative", "scale": {"domain": [7.071, 92.786], "nice": false, "zero": false}, "axis": null},
"y": {"field": "row", "type": "quantitative", "scale": {"domain": [0, 3], "reverse": true, "nice": false, "zero": false}, "axis": null},
"text": {"field": "label"}
}
},
{
"transform": [{"filter": "datum.kind == 'box'"}],
"mark": {"type": "point", "shape": "square", "filled": true, "size": 42, "stroke": "#000000", "strokeWidth": 1, "opacity": 1},
"encoding": {
"x": {"field": "col", "type": "quantitative", "scale": {"domain": [7.071, 92.786], "nice": false, "zero": false}, "axis": null},
"y": {"field": "row", "type": "quantitative", "scale": {"domain": [0, 3], "reverse": true, "nice": false, "zero": false}, "axis": null},
"fill": {"field": "label", "type": "nominal", "scale": {"domain": ["0","1/10","2/10","3/10","4/10","5/10","9/10"], "range": ["#26ff00","#00b8ff","#0059ff","#5e00ff","#7e00ff","#dd00ff","#ff0000"]}, "legend": null}
}
}
]
}
]
}
